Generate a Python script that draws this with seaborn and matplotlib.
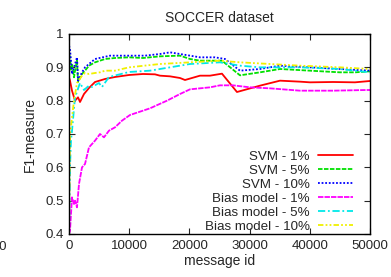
import numpy as np
import pandas as pd
import matplotlib
matplotlib.use("Agg")
import matplotlib.pyplot as plt
import seaborn as sns

# values
svm1_x = [0, 166, 500, 1000, 1500, 1830, 2490, 3320, 4320, 5980, 7640, 9970, 12290, 14280, 15110,
          16780, 18440, 19270, 21760, 23420, 25410, 27900, 31720, 35050, 38370, 40030, 43850, 47500, 50000]
svm1_y = [0.87, 0.86, 0.83, 0.80, 0.81, 0.796, 0.82, 0.838, 0.856, 0.865, 0.871, 0.877, 0.88, 0.879, 0.875,
          0.873, 0.868, 0.862, 0.875, 0.875, 0.881, 0.826, 0.845, 0.86, 0.857, 0.855, 0.856, 0.855, 0.859]

svm5_x = [0, 166, 330, 500, 830, 1000, 1330, 1500, 2160, 2660, 3320, 4320, 5980, 7640, 9970, 12290,
          15110, 18440, 20100, 21760, 25410, 28400, 31720, 35050, 40030, 45010, 47500, 50000]
svm5_y = [0.94, 0.93, 0.89, 0.91, 0.87, 0.89, 0.92, 0.856, 0.88, 0.89, 0.905, 0.915, 0.925, 0.928, 0.93, 0.928,
          0.933, 0.935, 0.925, 0.92, 0.92, 0.876, 0.885, 0.895, 0.89, 0.885, 0.885, 0.888]

svm10_x = [0, 166, 330, 500, 830, 1000, 1330, 1500, 2160, 2660, 3320, 4320, 6810, 9970, 12620, 15110,
           16780, 18440, 20100, 21760, 24250, 25910, 28400, 31720, 35050, 40030, 45010, 50000]
svm10_y = [0.965, 0.955, 0.92, 0.88, 0.9, 0.91, 0.93, 0.86, 0.885, 0.9, 0.91, 0.925, 0.935, 0.935, 0.935, 0.94,
           0.945, 0.94, 0.935, 0.93, 0.93, 0.925, 0.89, 0.895, 0.905, 0.9, 0.895, 0.89]

bias1_x = [0, 166, 500, 830, 1000, 1330, 1660, 2160, 2660, 3320, 4320, 5150, 5810, 6640, 7640, 8800,
           10130, 12290, 13450, 16280, 18440, 20100, 23420, 25080, 27240, 30060, 33390, 38370, 43850, 49500, 50000]
bias1_y = [0.40, 0.41, 0.51, 0.49, 0.50, 0.48, 0.55, 0.60, 0.61, 0.66, 0.68, 0.70, 0.69, 0.71, 0.72, 0.74,
           0.757, 0.77, 0.777, 0.80, 0.82, 0.834, 0.84, 0.846, 0.846, 0.84, 0.837, 0.83, 0.83, 0.832, 0.832]

bias5_x = [0, 166, 330, 500, 1000, 1830, 2490, 3320, 3820, 4980, 5480, 6640, 9970, 13450, 16780,
           20100, 25080, 28400, 31720, 38370, 45010, 50000]
bias5_y = [0.4, 0.6, 0.68, 0.71, 0.81, 0.853, 0.832, 0.845, 0.841, 0.853, 0.841, 0.871, 0.886, 0.89, 0.9,
           0.91, 0.915, 0.905, 0.9, 0.9, 0.895, 0.885]

bias10_x = [0, 100, 166, 330, 500, 830, 1330, 2160, 2660, 3320, 4320, 5150, 5980, 7640, 9970, 15110,
            20100, 25080, 28400, 33390, 38370, 45010, 50000]
bias10_y = [0.4, 0.6, 0.7, 0.72, 0.75, 0.8, 0.853, 0.875, 0.883, 0.88, 0.883, 0.885, 0.89, 0.89, 0.9, 0.91,
            0.915, 0.92, 0.915, 0.91, 0.905, 0.9, 0.895]

series = [
    ("SVM - 1%", svm1_x, svm1_y, "#ff0000", "-"),
    ("SVM - 5%", svm5_x, svm5_y, "#00e000", (0, (2.5, 0.8))),
    ("SVM - 10%", svm10_x, svm10_y, "#0000ff", (0, (1, 1))),
    ("Bias model - 1%", bias1_x, bias1_y, "#ff00ff", (0, (3, 0.6))),
    ("Bias model - 5%", bias5_x, bias5_y, "#00e8e8", (0, (4, 1.5, 1, 1.5))),
    ("Bias model - 10%", bias10_x, bias10_y, "#f0f000", (0, (3, 1.2, 1, 1.2, 1, 1.2))),
]

sns.set_style("ticks")
plt.rcParams['font.family'] = ['Liberation Sans', 'DejaVu Sans']

fig = plt.figure(figsize=(3.91, 2.77), dpi=100)
ax = fig.add_axes([69 / 391, 43 / 277, 301 / 391, 200 / 277])

for label, xs, ys, col, ls in series:
    df = pd.DataFrame({"x": xs, "y": ys})
    sns.lineplot(data=df, x="x", y="y", ax=ax, color=col, linewidth=1.3, label=label)
    ax.lines[-1].set_linestyle(ls)

ax.set_xlim(0, 50000)
ax.set_ylim(0.4, 1.0)
ax.set_xticks([0, 10000, 20000, 30000, 40000, 50000])
ax.set_yticks([0.4, 0.5, 0.6, 0.7, 0.8, 0.9, 1.0])
ax.set_yticklabels(["0.4", "0.5", "0.6", "0.7", "0.8", "0.9", "1"])
ax.tick_params(direction="in", top=True, right=True, length=4, width=0.8, labelsize=9.5, pad=4)
for s in ax.spines.values():
    s.set_linewidth(1.0)
    s.set_color("black")

ax.set_title("SOCCER dataset", fontsize=10, pad=9)
ax.set_xlabel("message id", fontsize=10, labelpad=2)
ax.set_ylabel("F1-measure", fontsize=10, labelpad=6)

leg = ax.legend(loc="lower right", frameon=False, markerfirst=False, fontsize=9.6,
                handlelength=2.6, labelspacing=0.12, handletextpad=0.6,
                borderaxespad=0.3, bbox_to_anchor=(0.973, -0.04))
for t in leg.get_texts():
    t.set_ha("right")
leg._legend_box.align = "right"

# clipped tick label at the left border of the original image
fig.text(7 / 391, 1 - 247 / 277, "5000", fontsize=9.5, ha="right", va="center")

fig.savefig("out.png", dpi=100)
